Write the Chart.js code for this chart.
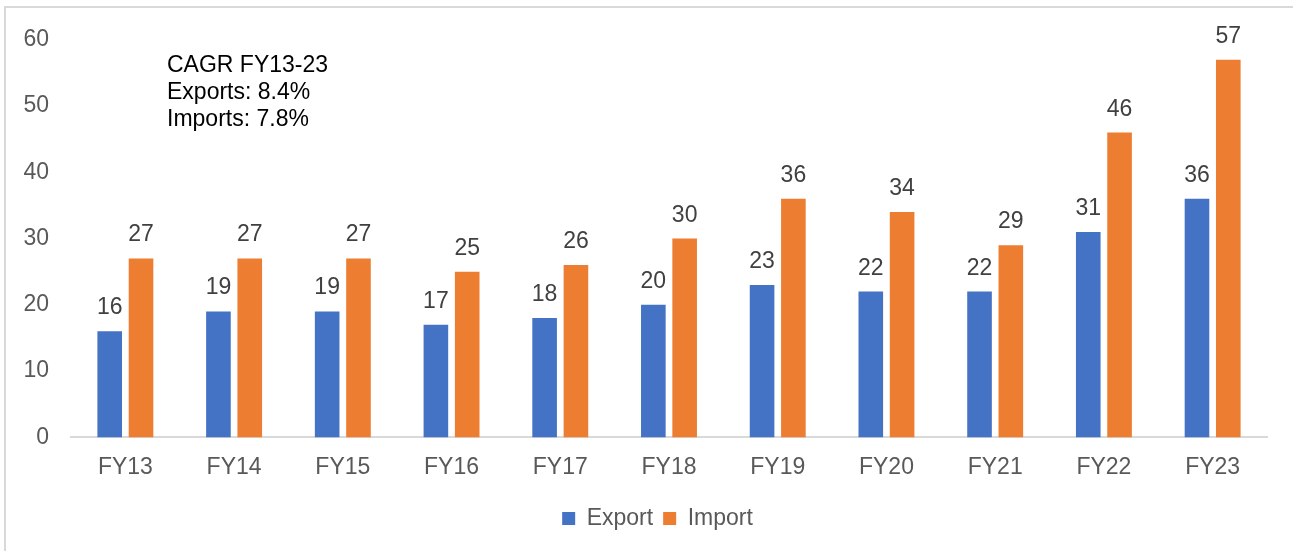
<!DOCTYPE html>
<html>
<head>
<meta charset="utf-8">
<script src="https://cdn.jsdelivr.net/npm/chart.js@4/dist/chart.umd.min.js"></script>
<style>
  html, body { margin: 0; padding: 0; background: #fff; }
  body { width: 1293px; height: 551px; overflow: hidden; position: relative; }
  #frame {
    position: absolute; left: 4px; top: 6px; width: 1289px; height: 545px;
    border-left: 2px solid #d9d9d9; border-top: 2px solid #d9d9d9;
  }
  #wrap { position: absolute; left: 0; top: -4px; width: 1287px; height: 547px; }
</style>
</head>
<body>
<div id="frame"><div id="wrap"><canvas id="barChart"></canvas></div></div>
<script>
const years = ['FY13', 'FY14', 'FY15', 'FY16', 'FY17', 'FY18', 'FY19', 'FY20', 'FY21', 'FY22', 'FY23'];
const exportValues = [16, 19, 19, 17, 18, 20, 23, 22, 22, 31, 36];
const importValues = [27, 27, 27, 25, 26, 30, 36, 34, 29, 46, 57];
const yTicks = [0, 10, 20, 30, 40, 50, 60];
const noteLines = ['CAGR FY13-23', 'Exports: 8.4%', 'Imports: 7.8%'];

const fontFamily = '"Liberation Sans", Arial, sans-serif';

// value labels above the bars + the CAGR note
const labelsPlugin = {
  id: 'barLabels',
  afterLayout(chart) {
    // nudge legend a bit right so it sits where the original one does
    chart.legend.left += 14;
    chart.legend.right += 14;
  },
  afterDatasetsDraw(chart) {
    const ctx = chart.ctx;
    ctx.save();
    ctx.font = '23px ' + fontFamily;
    ctx.fillStyle = '#404040';
    ctx.textAlign = 'center';
    ctx.textBaseline = 'alphabetic';
    chart.data.datasets.forEach((ds, i) => {
      chart.getDatasetMeta(i).data.forEach((bar, j) => {
        ctx.fillText(ds.data[j], bar.x, bar.y - 17);
      });
    });
    // note in the upper left of the plot
    const yScale = chart.scales.y;
    ctx.fillStyle = '#000000';
    ctx.textAlign = 'left';
    const x0 = chart.chartArea.left + 96;
    const y0 = yScale.getPixelForValue(60) + 32;
    noteLines.forEach((t, k) => ctx.fillText(t, x0, y0 + k * 27));
    ctx.restore();
  }
};

new Chart(document.getElementById('barChart'), {
  type: 'bar',
  data: {
    labels: years,
    datasets: [
      { label: 'Export', data: exportValues, backgroundColor: '#4472C4' },
      { label: 'Import', data: importValues, backgroundColor: '#ED7D31' }
    ]
  },
  options: {
    responsive: true,
    maintainAspectRatio: false,
    animation: false,
    categoryPercentage: 0.576,
    barPercentage: 0.786,
    layout: { padding: { top: 10, right: 26, bottom: 11, left: 14 } },
    plugins: {
      tooltip: { enabled: false },
      legend: {
        position: 'bottom',
        labels: {
          color: '#595959',
          font: { family: fontFamily, size: 23 },
          boxWidth: 13,
          boxHeight: 13,
          padding: 10
        }
      }
    },
    scales: {
      x: {
        grid: { display: false, drawTicks: false },
        border: { display: true, color: '#d9d9d9', width: 2 },
        ticks: { color: '#595959', font: { family: fontFamily, size: 23 }, padding: 16 }
      },
      y: {
        min: 0,
        max: 60,
        afterBuildTicks: (scale) => { scale.ticks = yTicks.map(v => ({ value: v })); },
        afterFit: (scale) => { scale.width = 51; },
        grid: { display: false, drawTicks: false },
        border: { display: false },
        ticks: { color: '#595959', font: { family: fontFamily, size: 23 }, padding: 22 }
      }
    }
  },
  plugins: [labelsPlugin]
});
</script>
</body>
</html>
